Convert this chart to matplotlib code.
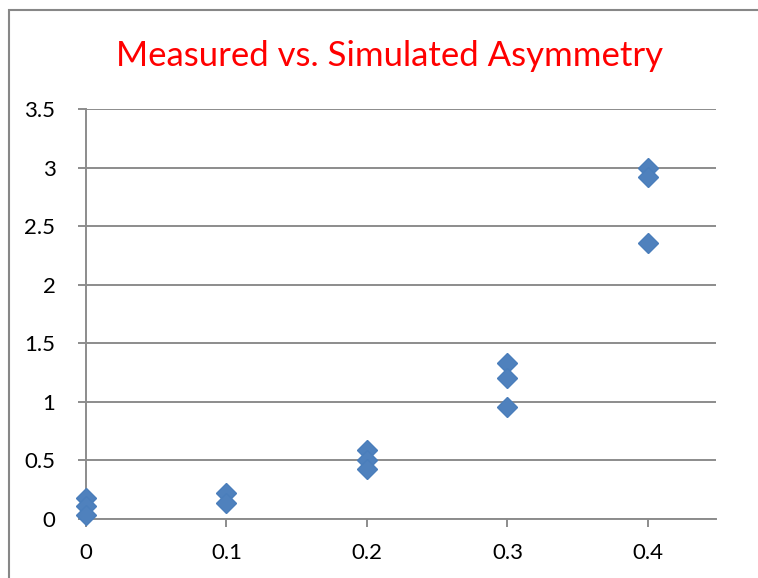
import matplotlib
matplotlib.use("Agg")
import matplotlib.pyplot as plt
from matplotlib.patches import Rectangle

# Data
x_values = [0.0, 0.0, 0.0, 0.1, 0.1, 0.2, 0.2, 0.2, 0.3, 0.3, 0.3, 0.4, 0.4, 0.4]
y_values = [0.18, 0.11, 0.035, 0.22, 0.135, 0.59, 0.50, 0.43, 1.33, 1.20, 0.96, 3.00, 2.92, 2.36]
x_ticks = [0, 0.1, 0.2, 0.3, 0.4]
x_tick_labels = ["0", "0.1", "0.2", "0.3", "0.4"]
y_ticks = [0, 0.5, 1, 1.5, 2, 2.5, 3, 3.5]
y_tick_labels = ["0", "0.5", "1", "1.5", "2", "2.5", "3", "3.5"]
title = "Measured vs. Simulated Asymmetry"

plt.rcParams['font.family'] = ['Lato', 'DejaVu Sans']

W, H = 758, 578
fig = plt.figure(figsize=(W / 100, H / 100), dpi=100)
fig.patch.set_facecolor("white")

# outer chart border (cropped at right and bottom)
fig.patches.append(Rectangle((9 / W, -0.1), 1.2, 1 - 10 / H + 0.1, transform=fig.transFigure,
                             fill=False, edgecolor="#878787", linewidth=1.5))

ax = fig.add_axes([86 / W, 1 - 519 / H, (716 - 86) / W, (519 - 109) / H])
ax.set_xlim(0, 0.4484)
ax.set_ylim(0, 3.5)

grid_c = "#8c8c8c"
ax.set_yticks(y_ticks)
ax.set_yticklabels(y_tick_labels)
ax.set_xticks(x_ticks)
ax.set_xticklabels(x_tick_labels)
ax.yaxis.grid(True, color=grid_c, linewidth=1.4)
ax.set_axisbelow(True)
for s in ["top", "right"]:
    ax.spines[s].set_visible(False)
for s in ["left", "bottom"]:
    ax.spines[s].set_color(grid_c)
    ax.spines[s].set_linewidth(1.4)
ax.tick_params(axis="both", colors=grid_c, length=6, width=1.4, labelcolor="black", labelsize=16)
ax.tick_params(axis="y", pad=16)
ax.tick_params(axis="x", pad=11)

ax.plot(x_values, y_values, linestyle="none", marker="D", markersize=10,
        markerfacecolor="#4F81BD", markeredgecolor="#4A7EBB", clip_on=False, zorder=3)

fig.text(389 / W, 1 - 56 / H, title, color="#FF0000", fontsize=25, ha="center", va="center")

fig.savefig("out.png", dpi=100, facecolor="white")
